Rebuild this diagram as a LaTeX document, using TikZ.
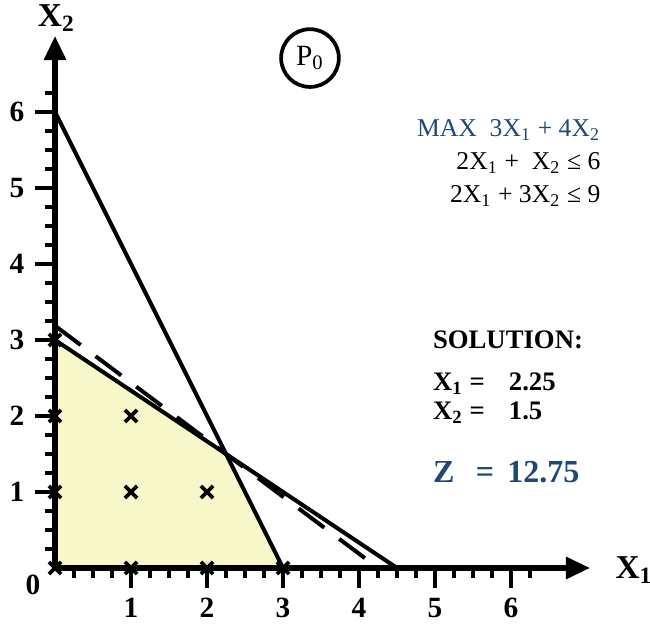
\documentclass[tikz,border=0pt]{standalone}
\usepackage{fontspec}
\setmainfont{Liberation Serif}
\usetikzlibrary{arrows.meta}
\definecolor{lpblue}{RGB}{32,72,114}
\definecolor{feasfill}{RGB}{248,247,202}

\begin{document}
\begin{tikzpicture}[
  axisline/.style={line width=1.9pt, -{Triangle[length=9pt,width=8pt]}},
  tickline/.style={line width=1.3pt},
  bound/.style={line width=1.5pt},
  lattice/.style={line width=1.4pt},
  numlab/.style={font=\fontsize{11}{13}\selectfont\bfseries},
  axlab/.style={font=\fontsize{12.5}{14}\selectfont\bfseries},
]
  \useasboundingbox (-0.724,-0.829) rectangle (7.829,7.474);

  % Feasible region
  \coordinate (O) at (0,0);
  \coordinate (Ay) at (0,3);
  \coordinate (Opt) at (2.25,1.5);
  \coordinate (Bx) at (3,0);
  \fill[feasfill] (O) -- (Ay) -- (Opt) -- (Bx) -- cycle;

  % Ticks every 0.25, long ones at the integers
  \foreach \i in {1,...,25}{
    \pgfmathsetmacro{\t}{\i/4}
    \pgfmathparse{mod(\i,4)==0 ? 0.26 : 0.13}
    \let\tl\pgfmathresult
    \draw[tickline] (\t,0) -- ++(0,-\tl);
    \draw[tickline] (0,\t) -- ++(-\tl,0);
  }

  % Axes
  \draw[axisline] (O) -- (7.04,0);
  \draw[axisline] (O) -- (0,7.0);
  \node[axlab] (xone) at (7.62,-0.03) {X\textsubscript{1}};
  \node[axlab] (xtwo) at (0.02,7.24) {X\textsubscript{2}};

  % Axis numbers
  \foreach \n in {1,...,6}{
    \node[numlab] (xn\n) at (\n,-0.53) {\n};
    \node[numlab] (yn\n) at (-0.5,\n) {\n};
  }
  \node[numlab] (zero) at (-0.29,-0.22) {0};

  % Constraint lines
  \coordinate (Cy) at (0,6);
  \coordinate (Dx) at (4.5,0);
  \draw[bound] (Cy) -- (Bx);
  \draw[bound] (Ay) -- (Dx);

  % Objective through the optimum (Z = 12.75)
  \coordinate (Zy) at (0,3.1875);
  \coordinate (Zx) at (4.25,0);
  \draw[bound, dash pattern=on 12pt off 7pt] (Zy) -- (Zx);

  % Integer points
  \foreach \p/\q in {0/0,0/1,0/2,0/3,1/0,1/1,1/2,2/0,2/1,3/0}
    \draw[lattice] (\p-0.08,\q-0.08) -- (\p+0.08,\q+0.08)
                   (\p-0.08,\q+0.08) -- (\p+0.08,\q-0.08);

  % Problem label
  \node[draw, circle, line width=1.4pt, minimum size=0.76cm, inner sep=0pt,
        font=\fontsize{11}{13}\selectfont] (pzero) at (3.355,6.71) {P\textsubscript{0}};

  % Model
  \node[anchor=east, text=lpblue, font=\fontsize{9.6}{12}\selectfont] (model) at (7.3,5.76)
    {MAX\ \ 3X\textsubscript{1} + 4X\textsubscript{2}};
  \node[anchor=east, font=\fontsize{9.6}{12}\selectfont] (conone) at (7.3,5.33)
    {2X\textsubscript{1} +\ \ X\textsubscript{2} ≤ 6};
  \node[anchor=east, font=\fontsize{9.6}{12}\selectfont] (contwo) at (7.3,4.89)
    {2X\textsubscript{1} + 3X\textsubscript{2} ≤ 9};

  % Solution
  \node[anchor=west, font=\fontsize{10}{12}\selectfont\bfseries] (sol) at (4.85,3.0) {SOLUTION:};
  \node[anchor=west, font=\fontsize{10}{12}\selectfont\bfseries] (xoneval) at (4.85,2.43)
    {X\textsubscript{1} =\hspace{9pt}2.25};
  \node[anchor=west, font=\fontsize{10}{12}\selectfont\bfseries] (xtwoval) at (4.85,2.04)
    {X\textsubscript{2} =\hspace{9pt}1.5};
  \node[anchor=west, text=lpblue, font=\fontsize{12}{14}\selectfont\bfseries] (zval) at (4.85,1.26)
    {Z\hspace{8pt}=\hspace{5pt}12.75};
\end{tikzpicture}
\end{document}
